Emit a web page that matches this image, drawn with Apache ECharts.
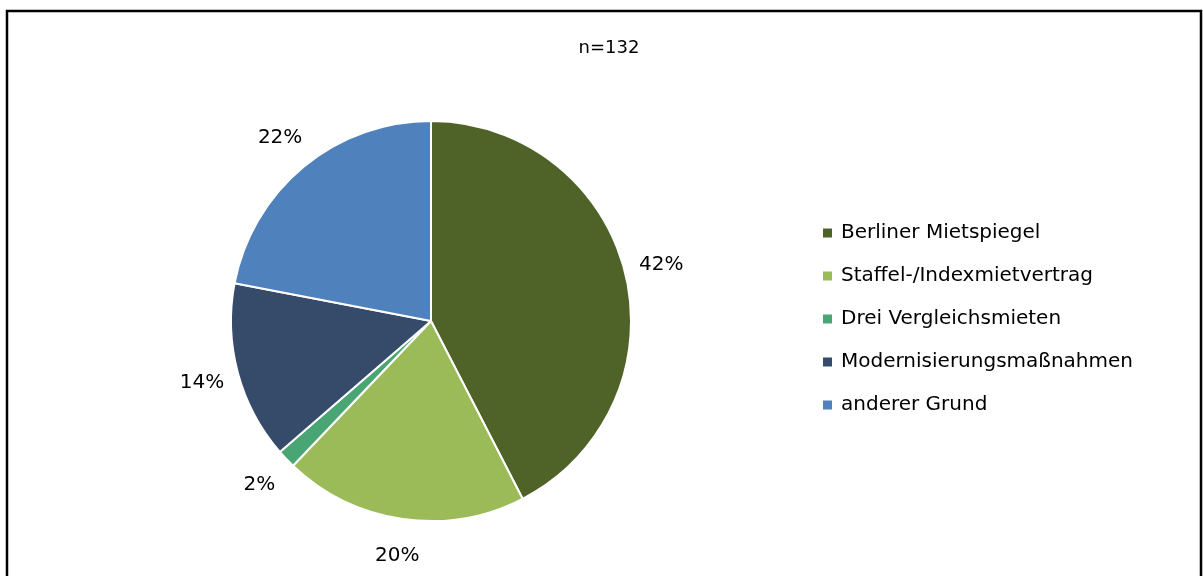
<!DOCTYPE html>
<html>
<head>
<meta charset="utf-8">
<script src="https://cdn.jsdelivr.net/npm/echarts@6/dist/echarts.min.js"></script>
<style>
  html, body { margin: 0; padding: 0; background: #fff; }
  #chart { width: 1203px; height: 576px; }
</style>
</head>
<body>
<div id="chart"></div>
<script>
// Gründe der Mieterhöhung, n=132
const categories = ['Berliner Mietspiegel', 'Staffel-/Indexmietvertrag', 'Drei Vergleichsmieten', 'Modernisierungsmaßnahmen', 'anderer Grund'];
const counts = [56, 26, 2, 19, 29];
const colors = ['#4F6228', '#9BBB59', '#4AA574', '#364A6A', '#4F81BD'];
const sampleLabel = 'n=132';

const fontFamily = '"DejaVu Sans", sans-serif';
const chart = echarts.init(document.getElementById('chart'));

const pieData = categories.map((name, i) => ({
  name: name,
  value: counts[i],
  itemStyle: {color: colors[i]}
}));

chart.setOption({
  animation: false,
  color: colors,
  title: {
    text: sampleLabel,
    left: 604,
    textAlign: 'center',
    top: 34,
    textStyle: {fontFamily: fontFamily, fontSize: 18, fontWeight: 'normal', color: '#000'}
  },
  legend: {
    orient: 'vertical',
    left: 821,
    top: 222,
    padding: 0,
    icon: 'rect',
    itemWidth: 11,
    itemHeight: 11,
    itemGap: 21,
    selectedMode: false,
    data: categories,
    textStyle: {fontFamily: fontFamily, fontSize: 20, color: '#000', lineHeight: 22, padding: [0, 0, 0, 3]}
  },
  graphic: [{
    type: 'rect',
    shape: {x: 7, y: 11, width: 1194, height: 600},
    style: {fill: 'none', stroke: '#000', lineWidth: 2.5}
  }],
  series: [
    {
      type: 'pie',
      center: [431, 321],
      radius: [0, 200],
      startAngle: 90,
      clockwise: true,
      data: pieData,
      label: {show: false},
      labelLine: {show: false},
      itemStyle: {borderColor: '#fff', borderWidth: 2},
      emphasis: {disabled: true}
    },
    {
      // unsichtbarer Ring, nur für die Prozent-Beschriftung
      type: 'pie',
      center: [431, 321],
      radius: [0, 468],
      startAngle: 90,
      clockwise: true,
      silent: true,
      legendHoverLink: false,
      data: categories.map((name, i) => ({name: name, value: counts[i]})),
      itemStyle: {color: 'rgba(0,0,0,0)', borderWidth: 0},
      label: {
        show: true,
        position: 'inside',
        fontFamily: fontFamily,
        fontSize: 20,
        color: '#000',
        formatter: p => Math.round(p.percent) + '%'
      },
      labelLine: {show: false},
      emphasis: {disabled: true},
      z: 3
    }
  ]
});
</script>
</body>
</html>
